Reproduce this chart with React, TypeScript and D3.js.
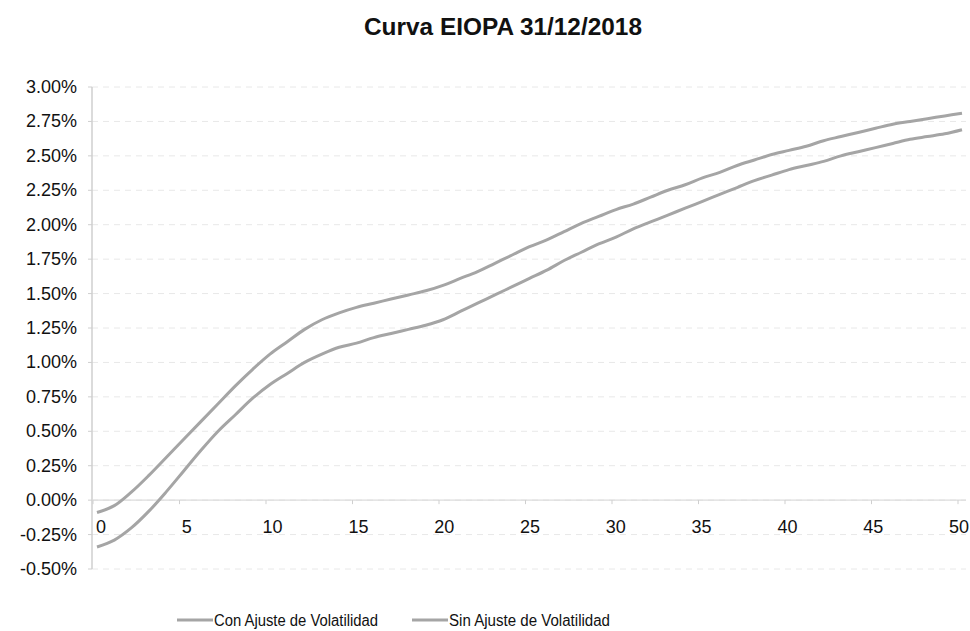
import React from "react";
import * as d3 from "d3";

const years = d3.range(0, 51);
const conVA = [-0.09, -0.04, 0.06, 0.18, 0.31, 0.44, 0.57, 0.7, 0.83, 0.95, 1.06, 1.15, 1.24, 1.31, 1.36, 1.4, 1.43, 1.46, 1.49, 1.52, 1.56, 1.61, 1.66, 1.72, 1.78, 1.84, 1.89, 1.95, 2.01, 2.06, 2.11, 2.15, 2.2, 2.25, 2.29, 2.34, 2.38, 2.43, 2.47, 2.51, 2.54, 2.57, 2.61, 2.64, 2.67, 2.7, 2.73, 2.75, 2.77, 2.79, 2.81];
const sinVA = [-0.34, -0.29, -0.2, -0.08, 0.06, 0.21, 0.36, 0.5, 0.62, 0.74, 0.84, 0.92, 1.0, 1.06, 1.11, 1.14, 1.18, 1.21, 1.24, 1.27, 1.31, 1.37, 1.43, 1.49, 1.55, 1.61, 1.67, 1.74, 1.8, 1.86, 1.91, 1.97, 2.02, 2.07, 2.12, 2.17, 2.22, 2.27, 2.32, 2.36, 2.4, 2.43, 2.46, 2.5, 2.53, 2.56, 2.59, 2.62, 2.64, 2.66, 2.69];
const yTicks = [3.0, 2.75, 2.5, 2.25, 2.0, 1.75, 1.5, 1.25, 1.0, 0.75, 0.5, 0.25, 0.0, -0.25, -0.5];
const xTicks = [0, 5, 10, 15, 20, 25, 30, 35, 40, 45, 50];
const seriesNames = ["Con Ajuste de Volatilidad", "Sin Ajuste de Volatilidad"];
const title = "Curva EIOPA 31/12/2018";

export default function App() {
  const W = 970, H = 631;
  const x = d3.scaleLinear().domain([0, 50]).range([97, 962]);
  const xLab = d3.scaleLinear().domain([0, 50]).range([101, 959]);
  const y = d3.scaleLinear().domain([-0.5, 3.0]).range([569, 87]);
  const line = d3
    .line<number>()
    .x((_, i) => x(years[i]))
    .y((d) => y(d))
    .curve(d3.curveCatmullRom.alpha(0.5));
  const font = "'Liberation Sans', Arial, sans-serif";
  const gray = "#a5a5a5";
  return (
    <svg width={W} height={H} style={{ position: "absolute", left: 0, top: 0, background: "#fff" }} fontFamily={font}>
      <text x={503} y={35} textAnchor="middle" fontSize={23} fontWeight="bold" fill="#111" textLength={278} lengthAdjust="spacingAndGlyphs">
        {title}
      </text>
      {yTicks.map((t) => (
        <g key={t}>
          <line x1={92} x2={966} y1={y(t)} y2={y(t)} stroke="#e8e8e8" strokeDasharray="6 5" strokeWidth={1} />
          <line x1={88} x2={92} y1={y(t)} y2={y(t)} stroke="#cfcfcf" />
          <text x={77} y={y(t) + 6} textAnchor="end" fontSize={18} fill="#111">
            {t.toFixed(2) + "%"}
          </text>
        </g>
      ))}
      <line x1={92} x2={92} y1={y(3.0)} y2={y(-0.5)} stroke="#cfcfcf" strokeWidth={1.5} />
      <line x1={92} x2={966} y1={y(0)} y2={y(0)} stroke="#dcdcdc" strokeWidth={1.2} />
      {xTicks.map((t) => (
        <g key={t}>
          <line x1={x(t) - 4} x2={x(t) - 4} y1={y(0)} y2={y(0) + 4} stroke="#cfcfcf" />
          <text x={xLab(t)} y={y(0) + 33} textAnchor="middle" fontSize={18} fill="#111">
            {t}
          </text>
        </g>
      ))}
      <path d={line(conVA) || ""} fill="none" stroke={gray} strokeWidth={3} />
      <path d={line(sinVA) || ""} fill="none" stroke={gray} strokeWidth={3} />
      <g fontSize={16} fill="#111">
        <line x1={177} x2={213} y1={620} y2={620} stroke={gray} strokeWidth={3} />
        <text x={214} y={626} textLength={164} lengthAdjust="spacingAndGlyphs">{seriesNames[0]}</text>
        <line x1={412} x2={448} y1={620} y2={620} stroke={gray} strokeWidth={3} />
        <text x={449} y={626} textLength={161} lengthAdjust="spacingAndGlyphs">{seriesNames[1]}</text>
      </g>
    </svg>
  );
}
